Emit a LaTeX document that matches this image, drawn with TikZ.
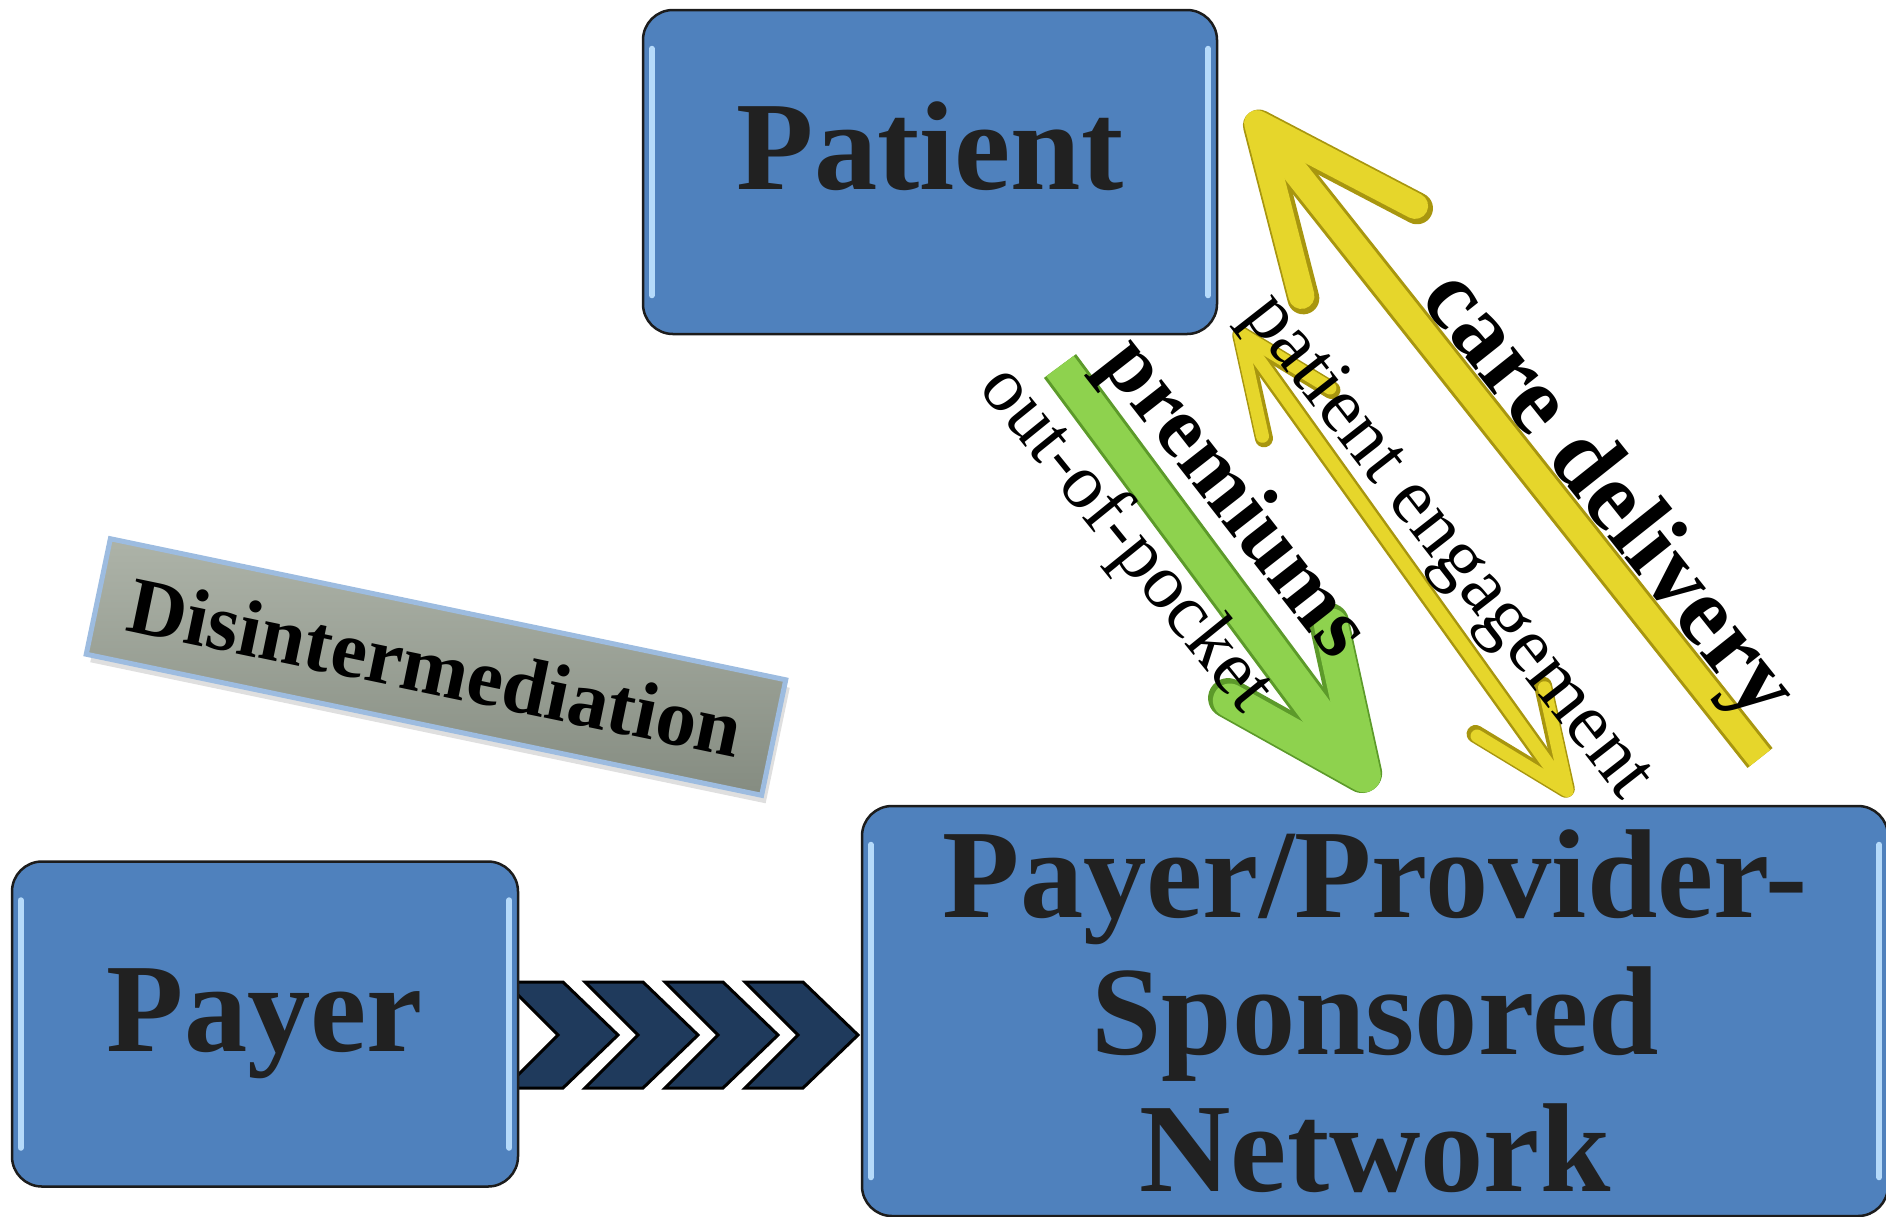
\documentclass[tikz,border=0pt]{standalone}
\usepackage{fontspec}
\setmainfont{Liberation Serif}
\usetikzlibrary{arrows.meta,shadows,backgrounds}

\definecolor{boxblue}{HTML}{4F81BD}
\definecolor{boxline}{HTML}{1C1C1C}
\definecolor{glintblue}{HTML}{B5DAFA}
\definecolor{chevblue}{HTML}{1F3A5C}
\definecolor{yellowbody}{HTML}{E6D62B}
\definecolor{yellowedge}{HTML}{A8960F}
\definecolor{greenbody}{HTML}{8ED24E}
\definecolor{greenedge}{HTML}{5C9A2A}
\definecolor{platetop}{HTML}{ADB3A8}
\definecolor{platebot}{HTML}{858C81}
\definecolor{plateedge}{HTML}{9DBCE0}

\begin{document}
\begin{tikzpicture}[x=0.1mm,y=-0.1mm,semithick]

  \tikzstyle{box}=[rectangle,rounded corners=3mm,draw=boxline,line width=0.25mm,
                   fill=boxblue,text=black!87,align=center,
                   font=\bfseries\fontsize{36}{39}\selectfont]
  \tikzstyle{glint}=[draw=glintblue,line width=0.6mm,line cap=round]
  \tikzstyle{chevron}=[fill=chevblue,draw=black,line width=0.3mm,line join=miter]
  \tikzstyle{plate}=[rectangle,top color=platetop,bottom color=platebot,draw=plateedge,
                     line width=0.5mm,minimum width=69mm,minimum height=11.8mm,
                     font=\bfseries\fontsize{23}{25}\selectfont,
                     drop shadow={shadow xshift=0.4mm,shadow yshift=-0.8mm,opacity=0.25}]
  \tikzstyle{care}=[-{Straight Barb[length=16.3mm,width=14.5mm,round]}]
  \tikzstyle{engage}=[{Straight Barb[length=9.7mm,width=8.3mm,round]}-{Straight Barb[length=9.7mm,width=8.3mm,round]}]
  \tikzstyle{pay}=[-{Straight Barb[length=14mm,width=12.6mm,round]}]
  \tikzstyle{lab}=[inner sep=0pt,font=\fontsize{22}{25}\selectfont]
  \tikzstyle{boldlab}=[inner sep=0pt,font=\bfseries\fontsize{25}{28}\selectfont]

  \useasboundingbox (0,0) rectangle (1886,1216);

  \node[box,minimum width=57.4mm,minimum height=32.4mm,
        text height=8.3mm,text depth=4.9mm]          (patient) at (930,172)   {Patient};
  \node[box,minimum width=50.6mm,minimum height=32.5mm] (payer)   at (265,1024)  {Payer};
  \node[box,minimum width=102.6mm,minimum height=41mm]  (network) at (1375,1011)
        {Payer/Provider-\\Sponsored\\Network};

  \foreach \b in {patient,payer,network} {
    \draw[glint] ([shift={(10,40)}]\b.north west) -- ([shift={(10,-40)}]\b.south west);
    \draw[glint] ([shift={(-10,40)}]\b.north east) -- ([shift={(-10,-40)}]\b.south east);
  }

  % payer pushing into the network
  \begin{scope}[on background layer]
    \foreach \x in {505,585,665,745}
      \draw[chevron] (\x,982) -- ++(58,0) -- ++(55,53) -- ++(-55,53)
                     -- ++(-58,0) -- ++(53,-53) -- cycle;
  \end{scope}

  \node[plate,rotate=-11.8] (disint) at (436,667) {Disintermediation};

  \coordinate (careTip)  at (1249,113);
  \coordinate (careTail) at (1760,758);
  \coordinate (engTop)   at (1236,328);
  \coordinate (engBot)   at (1571,796);
  \coordinate (payTail)  at (1060,366);
  \coordinate (payTip)   at (1374,789);

  \draw[care,draw=yellowedge,line width=3.2mm]  (careTail) -- (careTip);
  \draw[care,draw=yellowbody,line width=2.6mm]  (careTail) -- (careTip);
  \draw[engage,draw=yellowedge,line width=1.8mm] (engTop) -- (engBot);
  \draw[engage,draw=yellowbody,line width=1.3mm] (engTop) -- (engBot);
  \draw[pay,draw=greenedge,line width=4.0mm]    (payTail) -- (payTip);
  \draw[pay,draw=greenbody,line width=3.4mm]    (payTail) -- (payTip);

  \node[boldlab,font=\bfseries\fontsize{28}{30}\selectfont,rotate=-51.5] (careLab) at (1606,497) {care delivery};
  \node[lab,font=\fontsize{22.5}{25}\selectfont,rotate=-52] (engLab) at (1446,548) {patient engagement};
  \node[boldlab,rotate=-52] (premLab) at (1232,500) {premiums};
  \node[lab,rotate=-51]     (oopLab)  at (1125,540) {out-of-pocket};

\end{tikzpicture}
\end{document}
